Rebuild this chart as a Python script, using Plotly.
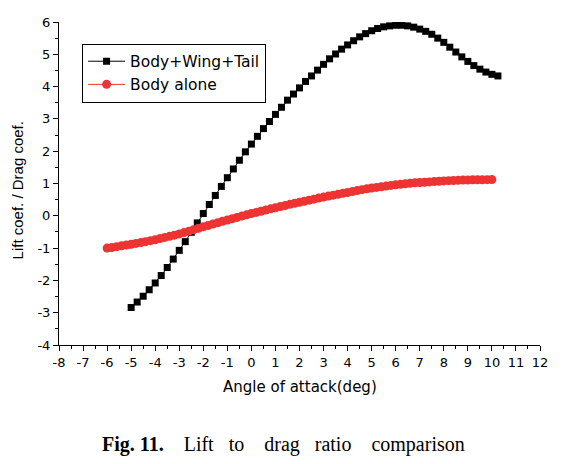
import plotly.graph_objects as go

# Body+Wing+Tail (angle step 0.25 deg)
bwt_alpha = [-5.00, -4.75, -4.50, -4.25, -4.00, -3.75, -3.50, -3.25, -3.00, -2.75,
             -2.50, -2.25, -2.00, -1.75, -1.50, -1.25, -1.00, -0.75, -0.50, -0.25,
             0.00, 0.25, 0.50, 0.75, 1.00, 1.25, 1.50, 1.75, 2.00, 2.25,
             2.50, 2.75, 3.00, 3.25, 3.50, 3.75, 4.00, 4.25, 4.50, 4.75,
             5.00, 5.25, 5.50, 5.75, 6.00, 6.25, 6.50, 6.75, 7.00, 7.25,
             7.50, 7.75, 8.00, 8.25, 8.50, 8.75, 9.00, 9.25, 9.50, 9.75,
             10.00, 10.25]
bwt_ld = [-2.84, -2.67, -2.49, -2.29, -2.08, -1.85, -1.60, -1.34, -1.07, -0.80,
          -0.51, -0.22, 0.07, 0.35, 0.63, 0.91, 1.18, 1.45, 1.72, 1.98,
          2.22, 2.46, 2.70, 2.92, 3.14, 3.36, 3.58, 3.77, 3.96, 4.16,
          4.33, 4.51, 4.69, 4.86, 5.01, 5.16, 5.29, 5.42, 5.54, 5.64,
          5.73, 5.80, 5.85, 5.88, 5.90, 5.90, 5.88, 5.84, 5.78, 5.71,
          5.62, 5.50, 5.37, 5.22, 5.07, 4.92, 4.78, 4.65, 4.54, 4.45,
          4.38, 4.33]

# Body alone (angle step 0.2 deg)
body_alpha = [-6.0, -5.8, -5.6, -5.4, -5.2, -5.0, -4.8, -4.6, -4.4, -4.2,
              -4.0, -3.8, -3.6, -3.4, -3.2, -3.0, -2.8, -2.6, -2.4, -2.2,
              -2.0, -1.8, -1.6, -1.4, -1.2, -1.0, -0.8, -0.6, -0.4, -0.2,
              0.0, 0.2, 0.4, 0.6, 0.8, 1.0, 1.2, 1.4, 1.6, 1.8,
              2.0, 2.2, 2.4, 2.6, 2.8, 3.0, 3.2, 3.4, 3.6, 3.8,
              4.0, 4.2, 4.4, 4.6, 4.8, 5.0, 5.2, 5.4, 5.6, 5.8,
              6.0, 6.2, 6.4, 6.6, 6.8, 7.0, 7.2, 7.4, 7.6, 7.8,
              8.0, 8.2, 8.4, 8.6, 8.8, 9.0, 9.2, 9.4, 9.6, 9.8, 10.0]
body_ld = [-1.00, -0.98, -0.955, -0.93, -0.905, -0.88, -0.855, -0.83, -0.80, -0.77,
           -0.74, -0.705, -0.67, -0.635, -0.60, -0.56, -0.52, -0.475, -0.43, -0.385,
           -0.34, -0.30, -0.255, -0.215, -0.17, -0.13, -0.09, -0.05, -0.01, 0.03,
           0.07, 0.105, 0.14, 0.18, 0.215, 0.25, 0.285, 0.32, 0.355, 0.385,
           0.42, 0.45, 0.485, 0.515, 0.55, 0.58, 0.61, 0.64, 0.665, 0.695,
           0.72, 0.75, 0.78, 0.81, 0.835, 0.86, 0.88, 0.90, 0.92, 0.94,
           0.96, 0.975, 0.99, 1.005, 1.02, 1.03, 1.04, 1.05, 1.06, 1.07,
           1.08, 1.087, 1.093, 1.099, 1.105, 1.11, 1.113, 1.115, 1.117, 1.119, 1.12]

x_tickvals = list(range(-8, 13))
y_tickvals = list(range(-4, 7))

x_title = "Angle of attack(deg)"
y_title = "Lift coef. / Drag coef."
caption = "<b>Fig. 11.</b>    Lift   to    drag   ratio    comparison"

fig = go.Figure()
fig.add_trace(go.Scatter(
    x=bwt_alpha, y=bwt_ld, name="Body+Wing+Tail", mode="lines+markers",
    line=dict(color="black", width=1),
    marker=dict(symbol="square", size=7, color="black"),
))
fig.add_trace(go.Scatter(
    x=body_alpha, y=body_ld, name="Body alone", mode="lines+markers",
    line=dict(color="#ee3333", width=1),
    marker=dict(symbol="circle", size=9, color="#ee3333"),
))

wide = "DejaVu Sans, Verdana, sans-serif"
narrow = "Liberation Sans, Arial, sans-serif"
tick_font = dict(family=wide, size=13, color="black")
fig.update_layout(
    width=551, height=448,
    margin=dict(l=51, r=19, t=7, b=111),
    paper_bgcolor="white", plot_bgcolor="white",
    font=dict(family=wide, color="black"),
    showlegend=True,
    legend=dict(
        x=0.048, y=0.933, xanchor="left", yanchor="top",
        bordercolor="black", borderwidth=1, bgcolor="white",
        font=dict(size=15.5, family=wide),
        tracegroupgap=0, itemwidth=37,
    ),
    xaxis=dict(
        range=[-8, 12], tickvals=x_tickvals, ticktext=[str(v) for v in x_tickvals],
        showgrid=False, zeroline=False, showline=True, linecolor="black", linewidth=1,
        ticks="outside", ticklen=5, tickcolor="black", tickfont=tick_font,
        ticklabeloverflow="allow",
        minor=dict(ticks="outside", dtick=0.5, tick0=0, ticklen=3, tickcolor="black", showgrid=False),
    ),
    yaxis=dict(
        range=[-4, 6], tickvals=y_tickvals, ticktext=[str(v) for v in y_tickvals],
        showgrid=False, zeroline=False, showline=True, linecolor="black", linewidth=1,
        ticks="outside", ticklen=5, tickcolor="black", tickfont=tick_font,
        ticklabeloverflow="allow",
        minor=dict(ticks="outside", dtick=0.5, tick0=0, ticklen=3, tickcolor="black", showgrid=False),
    ),
    annotations=[
        dict(text=x_title, xref="paper", yref="paper", x=0.501, y=-0.130,
             xanchor="center", yanchor="middle", showarrow=False,
             font=dict(family=wide, size=15, color="black")),
        dict(text=y_title, xref="paper", yref="paper", x=-0.0863, y=0.480,
             xanchor="center", yanchor="middle", showarrow=False, textangle=-90,
             font=dict(family=narrow, size=15, color="black")),
        dict(text=caption, xref="paper", yref="paper", x=0.0852, y=-0.309,
             xanchor="left", yanchor="middle", showarrow=False,
             font=dict(family="Liberation Serif, Times New Roman, serif", size=20, color="black")),
    ],
)

fig.write_html("out.html")
